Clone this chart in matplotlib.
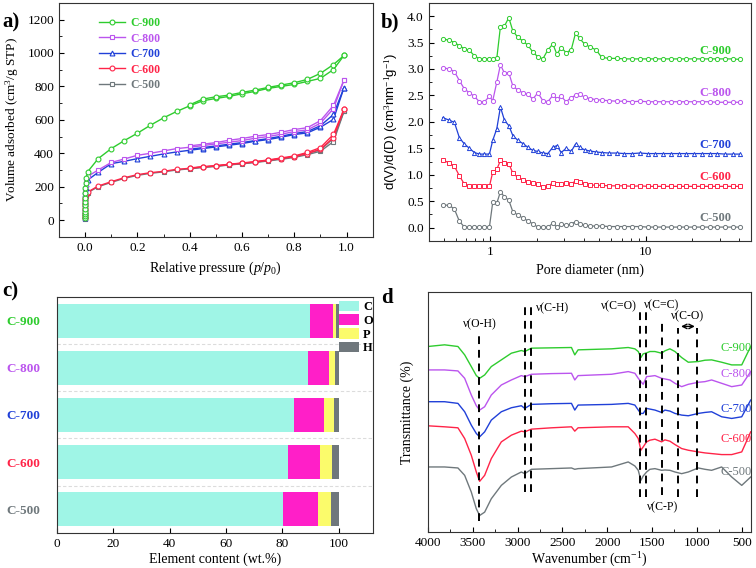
import matplotlib
matplotlib.use("Agg")
import matplotlib.pyplot as plt
from matplotlib.ticker import MultipleLocator, LogLocator, FixedLocator, FixedFormatter, NullFormatter

plt.rcParams['font.family'] = ['Liberation Serif', 'DejaVu Serif']
plt.rcParams['mathtext.fontset'] = 'custom'
plt.rcParams['mathtext.rm'] = 'Liberation Serif'
plt.rcParams['mathtext.it'] = 'Liberation Serif:italic'
plt.rcParams['xtick.direction'] = 'in'
plt.rcParams['ytick.direction'] = 'in'
plt.rcParams['font.size'] = 9.5

samples = ['C-900', 'C-800', 'C-700', 'C-600', 'C-500']
colores = {'C-900': '#2ecc2e', 'C-800': '#bb55ee', 'C-700': '#2040d8',
           'C-600': '#ff2448', 'C-500': '#6f787c'}

# ---- a) isotermas N2 ----
p_ads = [1e-6, 5e-6, 1e-5, 3e-5, 6e-5, 1e-4, 2e-4, 4e-4, 7e-4, 0.001, 0.002, 0.004, 0.01,
         0.05, 0.10, 0.15, 0.20, 0.25, 0.30, 0.35, 0.40, 0.45, 0.50, 0.55, 0.60, 0.65,
         0.70, 0.75, 0.80, 0.85, 0.90, 0.95, 0.99]
p_des = [0.99, 0.95, 0.90, 0.85, 0.80, 0.75, 0.70, 0.65, 0.60, 0.55, 0.50, 0.45, 0.40]

ads = {
    'C-900': [12, 22, 35, 50, 68, 88, 110, 135, 160, 190, 220, 250, 290,
              368, 428, 476, 520, 568, 612, 650, 684, 714, 728, 740, 756, 770, 788, 800, 812, 830, 848, 901, 985],
    'C-800': [15, 28, 42, 58, 78, 98, 120, 142, 165, 188, 210, 230, 262,
              300, 345, 366, 388, 400, 414, 428, 436, 446, 456, 466, 476, 490, 500, 514, 530, 540, 580, 667, 838],
    'C-700': [14, 26, 40, 56, 75, 95, 115, 135, 155, 175, 195, 215, 240,
              286, 338, 352, 368, 382, 396, 408, 418, 428, 438, 448, 458, 472, 482, 496, 512, 522, 556, 603, 792],
    'C-600': [10, 20, 32, 45, 60, 75, 90, 105, 120, 135, 148, 158, 168,
              204, 230, 254, 272, 284, 292, 304, 310, 318, 324, 334, 340, 348, 358, 368, 380, 398, 424, 494, 663],
    'C-500': [8, 18, 30, 43, 58, 73, 88, 103, 118, 132, 145, 155, 165,
              200, 226, 250, 268, 280, 289, 300, 307, 315, 321, 330, 337, 345, 354, 364, 375, 392, 412, 470, 650],
}
des = {
    'C-900': [985, 931, 878, 842, 822, 808, 794, 778, 764, 748, 738, 724, 690],
    'C-800': [838, 686, 595, 553, 542, 526, 512, 502, 488, 478, 464, 454, 444],
    'C-700': [792, 632, 565, 530, 518, 502, 488, 476, 464, 454, 444, 434, 424],
    'C-600': [663, 513, 434, 405, 384, 372, 360, 350, 342, 334, 326, 320, 312],
    'C-500': [650, 490, 420, 400, 380, 368, 357, 347, 339, 331, 324, 318, 310],
}
marcadores_a = {'C-900': 'o', 'C-800': 's', 'C-700': '^', 'C-600': 'o', 'C-500': 's'}

# ---- b) distribucion de poros ----
diametro = [0.493, 0.544, 0.586, 0.631, 0.680, 0.732, 0.788, 0.849, 0.915, 0.985, 1.035, 1.099,
            1.160, 1.231, 1.313, 1.394, 1.501, 1.617, 1.741, 1.876, 2.020, 2.176, 2.344, 2.524,
            2.679, 2.857, 3.077, 3.314, 3.535, 3.752, 4.042, 4.352,
            4.8, 5.2, 5.8, 6.5, 7.3, 8.2, 9.2, 10.3, 11.5, 13.0, 14.5, 16.3, 18.3, 20.5, 23.0,
            25.8, 29.0, 32.5, 36.5, 40.5]
psd = {
    'C-900': [3.57, 3.54, 3.50, 3.44, 3.38, 3.35, 3.25, 3.19, 3.19, 3.19, 3.19, 3.20,
              3.80, 3.81, 3.97, 3.72, 3.60, 3.53, 3.45, 3.32, 3.23, 3.19, 3.36, 3.47,
              3.28, 3.40, 3.31, 3.36, 3.68, 3.58, 3.47, 3.42,
              3.36, 3.22, 3.20, 3.20, 3.19, 3.19, 3.19, 3.19, 3.19, 3.19, 3.19, 3.19, 3.19, 3.19, 3.19,
              3.19, 3.19, 3.19, 3.19, 3.18],
    'C-800': [3.02, 3.00, 2.95, 2.78, 2.62, 2.55, 2.48, 2.38, 2.38, 2.48, 2.40, 2.75,
              3.08, 2.92, 2.93, 2.68, 2.60, 2.55, 2.52, 2.43, 2.55, 2.40, 2.38, 2.50,
              2.44, 2.48, 2.38, 2.46, 2.50, 2.52, 2.47, 2.44,
              2.42, 2.41, 2.40, 2.39, 2.39, 2.38, 2.39, 2.38, 2.38, 2.38, 2.38, 2.38, 2.38, 2.38, 2.38,
              2.38, 2.37, 2.37, 2.37, 2.37],
    'C-700': [2.08, 2.03, 1.99, 1.70, 1.58, 1.50, 1.42, 1.39, 1.39, 1.39, 1.65, 1.87,
              2.28, 2.03, 1.93, 1.74, 1.65, 1.59, 1.52, 1.46, 1.44, 1.41, 1.40, 1.52,
              1.55, 1.42, 1.50, 1.44, 1.58, 1.52, 1.47, 1.45,
              1.43, 1.42, 1.41, 1.41, 1.40, 1.40, 1.41, 1.40, 1.40, 1.40, 1.40, 1.40, 1.40, 1.40, 1.40,
              1.40, 1.40, 1.39, 1.39, 1.39],
    'C-600': [1.28, 1.22, 1.16, 0.98, 0.82, 0.78, 0.78, 0.78, 0.78, 0.78, 1.05, 1.10,
              1.27, 1.22, 1.21, 1.03, 0.95, 0.90, 0.87, 0.84, 0.82, 0.77, 0.78, 0.85,
              0.82, 0.82, 0.84, 0.83, 0.88, 0.86, 0.83, 0.81,
              0.80, 0.80, 0.79, 0.79, 0.79, 0.78, 0.79, 0.78, 0.78, 0.78, 0.78, 0.78, 0.78, 0.78, 0.78,
              0.78, 0.78, 0.78, 0.78, 0.78],
    'C-500': [0.43, 0.42, 0.35, 0.12, 0.01, 0.01, 0.01, 0.01, 0.01, 0.01, 0.48, 0.46,
              0.68, 0.58, 0.52, 0.30, 0.24, 0.18, 0.13, 0.07, 0.01, 0.01, 0.01, 0.08,
              0.01, 0.06, 0.04, 0.07, 0.11, 0.07, 0.04, 0.03,
              0.03, 0.03, 0.02, 0.02, 0.02, 0.02, 0.02, 0.01, 0.01, 0.01, 0.01, 0.01, 0.01, 0.01, 0.01,
              0.01, 0.01, 0.01, 0.01, 0.01],
}
etiqueta_b_y = [3.33, 2.54, 1.57, 0.95, 0.19]

# ---- c) contenido elemental ----
muestras_c = ['C-500', 'C-600', 'C-700', 'C-800', 'C-900']
elementos = ['C', 'O', 'P', 'H']
contenido = {
    'C': [80.3, 82.1, 84.1, 89.2, 89.6],
    'O': [12.2, 11.1, 10.6, 7.4, 8.4],
    'P': [4.8, 4.2, 3.5, 2.0, 0.9],
    'H': [2.7, 2.6, 1.8, 1.4, 1.1],
}
colores_elem = {'C': '#9ff5e6', 'O': '#ff1fc8', 'P': '#fbfb6b', 'H': '#6f777c'}

# ---- d) FTIR ----
onda = [4000, 3814, 3665, 3590, 3516, 3460, 3423, 3367, 3293, 3181, 3069, 2958, 2920,
        2846, 2622, 2399, 2362, 2325, 1952, 1766, 1692, 1654, 1625, 1599, 1561, 1524,
        1468, 1394, 1357, 1301, 1245, 1170, 1096, 985, 910, 836, 724, 612, 500, 400]
ftir = {
    'C-900': [5.55, 5.60, 5.55, 5.30, 4.95, 4.68, 4.60, 4.70, 4.95, 5.15, 5.35, 5.43, 5.40,
              5.50, 5.51, 5.52, 5.30, 5.45, 5.48, 5.52, 5.48, 5.40, 5.22, 5.33, 5.36, 5.40,
              5.40, 5.35, 5.42, 5.48, 5.40, 5.22, 5.08, 5.10, 5.14, 5.15, 5.08, 5.00, 5.00, 5.55],
    'C-800': [4.85, 4.85, 4.82, 4.60, 4.10, 3.78, 3.65, 3.75, 4.10, 4.40, 4.55, 4.68, 4.65,
              4.72, 4.74, 4.75, 4.55, 4.68, 4.72, 4.80, 4.75, 4.60, 4.50, 4.42, 4.65, 4.66,
              4.68, 4.60, 4.58, 4.55, 4.45, 4.35, 4.42, 4.48, 4.50, 4.55, 4.45, 4.35, 4.40, 4.80],
    'C-700': [3.90, 3.90, 3.85, 3.60, 3.20, 2.95, 2.85, 3.00, 3.35, 3.60, 3.72, 3.78, 3.70,
              3.82, 3.84, 3.85, 3.65, 3.80, 3.82, 3.85, 3.80, 3.65, 3.55, 3.55, 3.70, 3.68,
              3.65, 3.58, 3.65, 3.62, 3.55, 3.50, 3.48, 3.55, 3.58, 3.60, 3.45, 3.40, 3.45, 3.95],
    'C-600': [3.18, 3.15, 3.12, 2.80, 2.30, 1.80, 1.52, 1.70, 2.20, 2.70, 2.90, 3.02, 3.00,
              3.08, 3.12, 3.15, 3.02, 3.12, 3.15, 3.15, 2.95, 2.80, 2.45, 2.55, 2.70, 2.75,
              2.78, 2.70, 2.76, 2.72, 2.62, 2.50, 2.45, 2.40, 2.37, 2.35, 2.32, 2.32, 2.40, 3.00],
    'C-500': [1.95, 1.95, 1.92, 1.70, 1.20, 0.70, 0.50, 0.60, 1.00, 1.40, 1.65, 1.80, 1.75,
              1.88, 1.90, 1.92, 1.88, 1.90, 1.95, 2.10, 1.98, 1.85, 1.55, 1.68, 1.80, 1.88,
              1.90, 1.85, 1.86, 1.85, 1.80, 1.75, 1.80, 1.92, 1.88, 1.85, 1.95, 1.65, 1.40, 1.65],
}
etiqueta_d_y = [5.50, 4.72, 3.68, 2.78, 1.80]
lineas_d = [(3430, 0.35, 5.92), (2920, 1.20, 6.75), (2850, 1.20, 6.75), (1630, 1.05, 6.60),
            (1570, 1.05, 6.60), (1390, 1.10, 6.35), (1210, 1.05, 6.10), (1000, 1.05, 6.10)]

fig = plt.figure(figsize=(7.56, 5.68), dpi=100)
ax_a = fig.add_axes([0.078, 0.583, 0.415, 0.412])
ax_b = fig.add_axes([0.567, 0.576, 0.426, 0.419])
ax_c = fig.add_axes([0.075, 0.062, 0.418, 0.415])
ax_d = fig.add_axes([0.566, 0.063, 0.427, 0.423])

# a)
for s in samples[::-1]:
    ax_a.plot(p_ads, ads[s], '-', marker=marcadores_a[s], color=colores[s], ms=3.5, mfc='white',
              mew=0.8, lw=1.0, label=s)
    ax_a.plot(p_des, des[s], '-', marker=marcadores_a[s], color=colores[s], ms=3.5, mfc='white',
              mew=0.8, lw=1.0)
ax_a.set_xlim(-0.1, 1.1)
ax_a.set_ylim(-100, 1300)
ax_a.xaxis.set_major_locator(MultipleLocator(0.2))
ax_a.xaxis.set_minor_locator(MultipleLocator(0.1))
ax_a.yaxis.set_major_locator(MultipleLocator(200))
ax_a.yaxis.set_minor_locator(MultipleLocator(100))
ax_a.set_xlabel('Relative pressure ($p$/$p_0$)', fontsize=10, labelpad=4)
ax_a.set_ylabel('Volume adsorbed (cm$^3$/g STP)', fontsize=9.5, labelpad=5)
h, l = ax_a.get_legend_handles_labels()
leg = ax_a.legend(h[::-1], l[::-1], loc='upper left', bbox_to_anchor=(0.095, 0.985), frameon=False,
                  handlelength=2.2, labelspacing=0.3, handletextpad=0.4, fontsize=8.5)
for txt, s in zip(leg.get_texts(), samples):
    txt.set_color(colores[s])
    txt.set_fontweight('bold')

# b)
marcadores_b = {'C-900': 'o', 'C-800': 'o', 'C-700': '^', 'C-600': 's', 'C-500': 'o'}
for s, yl in zip(samples, etiqueta_b_y):
    ax_b.plot(diametro, psd[s], '-', marker=marcadores_b[s], color=colores[s], ms=3, mfc='white',
              mew=0.7, lw=0.9)
    ax_b.text(28, yl, s, color=colores[s], fontweight='bold', fontsize=9, ha='center', va='center')
ax_b.set_xscale('log')
ax_b.set_xlim(0.4, 47.5)
ax_b.set_ylim(-0.25, 4.25)
ax_b.xaxis.set_major_locator(FixedLocator([1, 10]))
ax_b.xaxis.set_major_formatter(FixedFormatter(['1', '10']))
ax_b.xaxis.set_minor_locator(LogLocator(base=10, subs=range(2, 10)))
ax_b.xaxis.set_minor_formatter(NullFormatter())
ax_b.yaxis.set_major_locator(MultipleLocator(0.5))
ax_b.yaxis.set_minor_locator(MultipleLocator(0.25))
ax_b.yaxis.set_major_formatter(plt.FuncFormatter(lambda v, _: f'{v:.1f}'))
ax_b.set_xlabel('Pore diameter (nm)', fontsize=10, labelpad=4)
ax_b.set_ylabel('d(V)/d(D) (cm$^3$nm$^{-1}$g$^{-1}$)', fontsize=9.5, labelpad=5,
                family=['Liberation Sans', 'DejaVu Sans'])

# c)
izq = [0] * len(muestras_c)
for e in elementos:
    ax_c.barh(range(len(muestras_c)), contenido[e], left=izq, height=0.72,
              color=colores_elem[e], label=e)
    izq = [a + b for a, b in zip(izq, contenido[e])]
for yy in [0.5, 1.5, 2.5, 3.5]:
    ax_c.axhline(yy, color='#dcdcdc', lw=0.8, ls=(0, (3, 2)), zorder=0)
ax_c.set_xlim(0, 112)
ax_c.set_ylim(-0.5, 4.5)
ax_c.set_yticks(range(len(muestras_c)))
ax_c.set_yticklabels(muestras_c, fontweight='bold', fontsize=10.5)
for tl, s in zip(ax_c.get_yticklabels(), muestras_c):
    tl.set_color(colores[s])
ax_c.tick_params(axis='y', length=0, pad=12)
ax_c.xaxis.set_major_locator(MultipleLocator(20))
ax_c.set_xlabel('Element content (wt.%)', fontsize=10, labelpad=2)
leg_c = ax_c.legend(loc='upper right', bbox_to_anchor=(1.0, 0.985), frameon=False, borderaxespad=0,
                    borderpad=0, handlelength=1.6, handleheight=0.95, labelspacing=0.08,
                    handletextpad=0.3, fontsize=9)
for txt in leg_c.get_texts():
    txt.set_fontweight('bold')

# d)
for s, yl in zip(samples, etiqueta_d_y):
    ax_d.plot(onda, ftir[s], '-', color=colores[s], lw=1.0)
    ax_d.text(560, yl, s, color=colores[s], fontsize=9, ha='center', va='center')
for w, y0, y1 in lineas_d:
    ax_d.plot([w, w], [y0, y1], color='black', lw=1.4, ls=(0, (4, 3)))
ax_d.text(3423, 6.22, 'ν(O-H)', ha='center', va='center', fontsize=8.5)
ax_d.text(2800, 6.68, 'ν(C-H)', ha='left', va='center', fontsize=8.5)
ax_d.text(1870, 6.75, 'ν(C=O)', ha='center', va='center', fontsize=8.5)
ax_d.text(1394, 6.78, 'ν(C=C)', ha='center', va='center', fontsize=8.5)
ax_d.text(1104, 6.45, 'ν(C-O)', ha='center', va='center', fontsize=8.5)
ax_d.text(1387, 0.75, 'ν(C-P)', ha='center', va='center', fontsize=8.5)
ax_d.annotate('', xy=(992, 6.15), xytext=(1208, 6.15),
              arrowprops=dict(arrowstyle='<->', color='black', lw=1.0, mutation_scale=8))
ax_d.set_xlim(4000, 400)
ax_d.set_ylim(0, 7.18)
ax_d.set_yticks([])
ax_d.xaxis.set_major_locator(MultipleLocator(500))
ax_d.xaxis.set_minor_locator(MultipleLocator(250))
ax_d.set_xlabel('Wavenumber (cm$^{-1}$)', fontsize=10, labelpad=1)
ax_d.set_ylabel('Transmittance (%)', fontsize=10, labelpad=10)

for ax in [ax_a, ax_b, ax_c, ax_d]:
    for sp in ax.spines.values():
        sp.set_color('#333333')
    ax.tick_params(labelsize=9.5)

fig.text(0.003, 0.952, 'a)', fontsize=15, fontweight='bold')
fig.text(0.503, 0.952, 'b)', fontsize=15, fontweight='bold')
fig.text(0.003, 0.478, 'c)', fontsize=15, fontweight='bold')
fig.text(0.504, 0.467, 'd', fontsize=15, fontweight='bold')

fig.savefig('out.png', dpi=100)
